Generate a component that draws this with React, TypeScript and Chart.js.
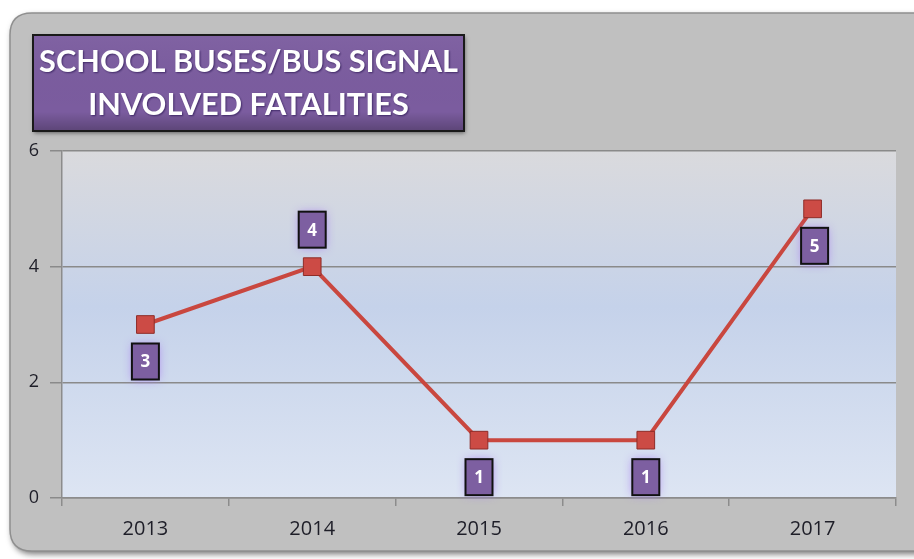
import React, { useEffect, useRef } from "react";
import { Chart, registerables } from "chart.js";

Chart.register(...registerables);

const categories = ["2013", "2014", "2015", "2016", "2017"];
const fatalities = [3, 4, 1, 1, 5];
const labelPlacement = ["below", "above", "below", "below", "below"];
const yTickValues = [0, 2, 4, 6];
const titleLines = ["SCHOOL BUSES/BUS SIGNAL", "INVOLVED FATALITIES"];

const W = 914;
const H = 559;

function roundRect(ctx: CanvasRenderingContext2D, x: number, y: number, w: number, h: number, r: number) {
  ctx.beginPath();
  ctx.moveTo(x + r, y);
  ctx.lineTo(x + w - r, y);
  ctx.quadraticCurveTo(x + w, y, x + w, y + r);
  ctx.lineTo(x + w, y + h - r);
  ctx.quadraticCurveTo(x + w, y + h, x + w - r, y + h);
  ctx.lineTo(x + r, y + h);
  ctx.quadraticCurveTo(x, y + h, x, y + h - r);
  ctx.lineTo(x, y + r);
  ctx.quadraticCurveTo(x, y, x + r, y);
  ctx.closePath();
}

const backgroundPlugin = {
  id: "bgPanel",
  beforeDraw(chart: any) {
    const ctx: CanvasRenderingContext2D = chart.ctx;
    const ca = chart.chartArea;
    ctx.save();
    ctx.fillStyle = "#ffffff";
    ctx.fillRect(0, 0, chart.width, chart.height);
    ctx.save();
    ctx.shadowColor = "rgba(0,0,0,0.55)";
    ctx.shadowBlur = 6;
    ctx.shadowOffsetX = 2;
    ctx.shadowOffsetY = 3;
    roundRect(ctx, 10, 13, 940, 538, 22);
    ctx.fillStyle = "#c0c0c0";
    ctx.fill();
    ctx.restore();
    roundRect(ctx, 10, 13, 940, 538, 22);
    ctx.lineWidth = 1.5;
    ctx.strokeStyle = "#8f8f8f";
    ctx.stroke();
    const g = ctx.createLinearGradient(0, ca.top, 0, ca.bottom);
    g.addColorStop(0, "#dadadd");
    g.addColorStop(0.45, "#c5d2ea");
    g.addColorStop(1, "#dde5f3");
    ctx.fillStyle = g;
    ctx.fillRect(ca.left, ca.top, ca.right - ca.left, ca.bottom - ca.top);
    ctx.restore();
  },
};

const labelsPlugin = {
  id: "valueBoxes",
  afterDatasetsDraw(chart: any) {
    const ctx: CanvasRenderingContext2D = chart.ctx;
    const meta = chart.getDatasetMeta(0);
    const data = chart.data.datasets[0].data as number[];
    ctx.save();
    meta.data.forEach((pt: any, i: number) => {
      const bw = 27;
      const bh = 36;
      const off = 37;
      const cx = pt.x + (i === data.length - 1 ? 2 : 0);
      const cy = labelPlacement[i] === "above" ? pt.y - off : pt.y + off;
      const x = cx - bw / 2;
      const y = cy - bh / 2;
      ctx.save();
      ctx.shadowColor = "rgba(170,130,240,0.95)";
      ctx.shadowBlur = 9;
      ctx.fillStyle = "#7d5fa1";
      ctx.fillRect(x, y, bw, bh);
      ctx.restore();
      ctx.lineWidth = 2;
      ctx.strokeStyle = "#111111";
      ctx.strokeRect(x, y, bw, bh);
      ctx.fillStyle = "#ffffff";
      ctx.font = "bold 17px 'Open Sans', sans-serif";
      ctx.textAlign = "center";
      ctx.textBaseline = "middle";
      ctx.fillText(String(data[i]), cx, cy + 1);
    });
    ctx.restore();
  },
};

const titlePlugin = {
  id: "titleBox",
  afterDraw(chart: any) {
    const ctx: CanvasRenderingContext2D = chart.ctx;
    ctx.save();
    const x = 33, y = 35, w = 431, h = 96;
    ctx.save();
    ctx.shadowColor = "rgba(0,0,0,0.5)";
    ctx.shadowBlur = 4;
    ctx.shadowOffsetX = 1;
    ctx.shadowOffsetY = 2;
    ctx.fillStyle = "#7b5c9f";
    ctx.fillRect(x, y, w, h);
    ctx.restore();
    const ig = ctx.createLinearGradient(0, y, 0, y + h);
    ig.addColorStop(0, "rgba(255,255,255,0.04)");
    ig.addColorStop(0.8, "rgba(0,0,0,0)");
    ig.addColorStop(1, "rgba(0,0,0,0.25)");
    ctx.fillStyle = ig;
    ctx.fillRect(x, y, w, h);
    ctx.lineWidth = 2;
    ctx.strokeStyle = "#1a1a1a";
    ctx.strokeRect(x, y, w, h);
    ctx.font = "bold 100px Lato, sans-serif";
    const mw = ctx.measureText(titleLines[0]).width;
    const size = Math.min(34, (419 / mw) * 100);
    ctx.font = `bold ${size.toFixed(1)}px Lato, sans-serif`;
    ctx.textAlign = "center";
    ctx.textBaseline = "alphabetic";
    ctx.shadowColor = "rgba(40,20,80,0.7)";
    ctx.shadowBlur = 2;
    ctx.shadowOffsetX = 1;
    ctx.shadowOffsetY = 1;
    ctx.fillStyle = "#ffffff";
    ctx.fillText(titleLines[0], x + w / 2, 72);
    ctx.fillText(titleLines[1], x + w / 2, 115);
    ctx.restore();
  },
};

export default function App() {
  const ref = useRef<HTMLCanvasElement | null>(null);

  useEffect(() => {
    if (!ref.current) return;
    const chart = new Chart(ref.current, {
      type: "line",
      data: {
        labels: categories,
        datasets: [
          {
            data: fatalities,
            borderColor: "#c9473f",
            borderWidth: 4,
            pointStyle: "rect",
            pointRadius: 12.5,
            pointHoverRadius: 12.5,
            pointBackgroundColor: "#cc4b45",
            pointBorderColor: "#8e2c28",
            pointBorderWidth: 1,
            tension: 0,
          },
        ],
      },
      options: {
        responsive: false,
        animation: false,
        events: [],
        layout: { padding: { left: 0, right: 18, top: 151, bottom: 0 } },
        plugins: {
          legend: { display: false },
          tooltip: { enabled: false },
          title: { display: false },
        },
        scales: {
          x: {
            offset: true,
            grid: {
              offset: true,
              drawOnChartArea: false,
              drawTicks: true,
              tickLength: 8,
              color: "#8c8c8c",
              lineWidth: 1.5,
            },
            border: { color: "#8c8c8c", width: 1.5 },
            ticks: {
              color: "#1e1e28",
              font: { family: "'Open Sans', sans-serif", size: 20 },
              padding: 11,
            },
            afterFit(scale: any) {
              scale.height = 61;
            },
          },
          y: {
            min: 0,
            max: 6,
            afterBuildTicks(scale: any) {
              scale.ticks = yTickValues.map((v) => ({ value: v }));
            },
            grid: {
              color: "#8a8a8a",
              lineWidth: 1.5,
              tickLength: 12,
            },
            border: { color: "#8c8c8c", width: 1.5 },
            ticks: {
              color: "#1e1e28",
              font: { family: "'Open Sans', sans-serif", size: 18 },
              padding: 11,
            },
            afterFit(scale: any) {
              scale.width = 62;
            },
          },
        },
      },
      plugins: [backgroundPlugin, labelsPlugin, titlePlugin],
    });
    return () => chart.destroy();
  }, []);

  return (
    <div style={{ position: "fixed", left: 0, top: 0, width: W, height: H }}>
      <canvas ref={ref} width={W} height={H} style={{ display: "block", width: W, height: H }} />
    </div>
  );
}
